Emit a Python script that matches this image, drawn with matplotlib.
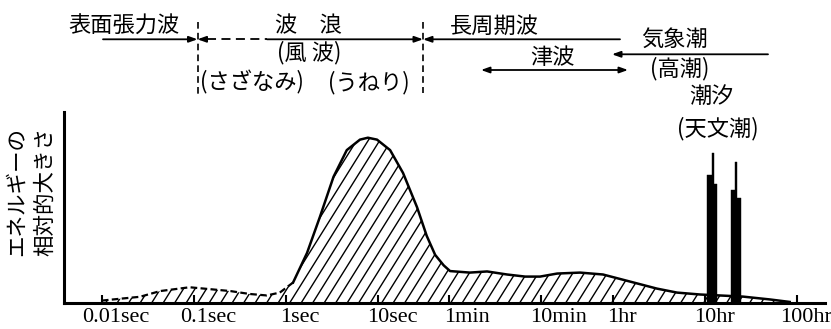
import numpy as np
import matplotlib
matplotlib.use('Agg')
import matplotlib.pyplot as plt
from matplotlib.collections import LineCollection
from matplotlib.transforms import ScaledTranslation

plt.rcParams['font.family'] = ['Noto Sans CJK JP', 'DejaVu Sans']

# wave period (s) vs relative energy (0-100, arbitrary)
period = [0.01, 0.016, 0.026, 0.043, 0.09, 0.15, 0.25, 0.4, 0.62, 0.86,
          1.2, 1.7, 2.35, 3.3, 4.6, 6.4, 7.8, 9.8, 13.6, 18.8,
          26.7, 34, 42, 52, 61, 100, 154, 254, 400, 580,
          890, 1580, 2800, 5500, 10800, 17900, 31800, 93000, 183000, 300000]
energy = [1, 2, 3, 6, 8, 7, 6, 4.5, 3.7, 5.2,
          10.5, 26, 45, 66, 80, 85.5, 86.5, 85.5, 80, 68,
          50, 35, 25, 19.5, 16.5, 15.7, 16.3, 14.7, 13.6, 13.6,
          15.2, 15.7, 14.7, 11, 7.3, 5.2, 4.2, 3.1, 1.6, 0.3]
n_dashed = 10  # capillary-wave part drawn dashed

# tidal lines: left period, right period, height
tide_left = [37850, 42600, 43950, 68500, 75750, 78200]
tide_right = [43950, 44750, 48600, 78200, 79600, 88100]
tide_height = [67, 78.7, 62, 59.3, 73.5, 55]

tick_pos = [0.01, 0.1, 1, 10, 60, 600, 3600, 36000, 360000]
tick_num = ['0.01', '0.1', '1', '10', '1', '10', '1', '10', '100']
tick_unit = ['sec', 'sec', 'sec', 'sec', 'min', 'min', 'hr', 'hr', 'hr']

fig = plt.figure(figsize=(8.31, 3.29), dpi=100)
ax = fig.add_axes([64/831, 26.5/329, 761/831, 190.5/329])
ax.set_xscale('log')
ax.set_xlim(0.00388, 7.26e5)
ax.set_ylim(0, 100)

# curve
ax.plot(period[:n_dashed + 1], energy[:n_dashed + 1], color='k', lw=1.6, ls=(0, (3, 1.5)))
ax.plot(period[n_dashed:], energy[n_dashed:], color='k', lw=1.8)
area = ax.fill_between(period, energy, 0, facecolor='none', edgecolor='none')

# diagonal hatching, clipped to the area under the curve
w_px, h_px = 761, 190.5
slope, step = 1.6, 11.5
segs = []
x0 = -h_px / slope
while x0 < w_px:
    segs.append([(x0 / w_px, 0), ((x0 + h_px / slope) / w_px, 1)])
    x0 += step
hatch = LineCollection(segs, transform=ax.transAxes, colors='k', linewidths=1.0)
ax.add_collection(hatch)
hatch.set_clip_path(area.get_paths()[0], ax.transData)

# tide spikes
widths = [r - l for l, r in zip(tide_left, tide_right)]
ax.bar(tide_left, tide_height, width=widths, align='edge', color='k', edgecolor='k', lw=0.3, zorder=3)

for s in ['top', 'right']:
    ax.spines[s].set_visible(False)
ax.spines['left'].set_linewidth(2.2)
ax.spines['bottom'].set_linewidth(2.2)
ax.set_yticks([])
ax.set_xticks(tick_pos)
ax.set_xticklabels([])
ax.xaxis.set_minor_locator(matplotlib.ticker.NullLocator())
ax.tick_params(axis='x', direction='in', length=6, width=1.5)

fs = 16
for p, num, unit in zip(tick_pos, tick_num, tick_unit):
    w = (0.5 * sum(c.isdigit() for c in num) + 0.25 * num.count('.')) * fs / 72
    off = ScaledTranslation(-w / 2, -0.2, fig.dpi_scale_trans)
    ax.text(p, 0, num + unit, transform=ax.get_xaxis_transform() + off,
            ha='left', va='baseline', fontsize=fs, family='Liberation Serif')

fig.text(31/831, 1 - 191/329, 'エネルギーの\n相対的大きさ', rotation=90,
         ha='center', va='center', fontsize=15.5, linespacing=1.4)

# top annotations in pixel layout
top = fig.add_axes([0, 0, 1, 1], zorder=5)
top.set_xlim(0, 831)
top.set_ylim(329, 0)
top.axis('off')
top.patch.set_alpha(0)

def arrow(x1, x2, y, style='-|>'):
    top.annotate('', xy=(x2, y), xytext=(x1, y),
                 arrowprops=dict(arrowstyle=style + ',head_length=0.5,head_width=0.18',
                                 color='k', lw=1.3, shrinkA=0, shrinkB=0))

top.plot([197.5, 197.5], [22, 95], color='k', lw=1.2, ls=(0, (4, 2.5)))
top.plot([423, 423], [22, 93], color='k', lw=1.2, ls=(0, (4, 2.5)))
arrow(103, 197.5, 39.3)
arrow(207, 197.5, 39.3)
top.plot([207, 267], [39.3, 39.3], color='k', lw=1.3, ls=(0, (5, 3)))
arrow(267, 423, 39.3)
arrow(620, 423, 39.3)
arrow(768, 612, 54.3)
arrow(481, 628, 70, style='<|-|>')

kw = dict(ha='center', va='center', fontsize=16)
top.text(124, 26, '表面張力波', **kw)
top.text(308, 26, '波　浪', **kw)
top.text(309, 52.5, '(風 波)', **kw)
top.text(251.5, 82.5, '(さざなみ)', **kw)
top.text(369, 82.5, '(うねり)', **kw)
top.text(494, 26, '長周期波', **kw)
top.text(552, 57.5, '津波', **kw)
top.text(675, 39, '気象潮', **kw)
top.text(680, 69, '(高潮)', **kw)
top.text(712, 96, '潮汐', **kw)
top.text(718, 129, '(天文潮)', **kw)

fig.savefig('out.png', dpi=100)
